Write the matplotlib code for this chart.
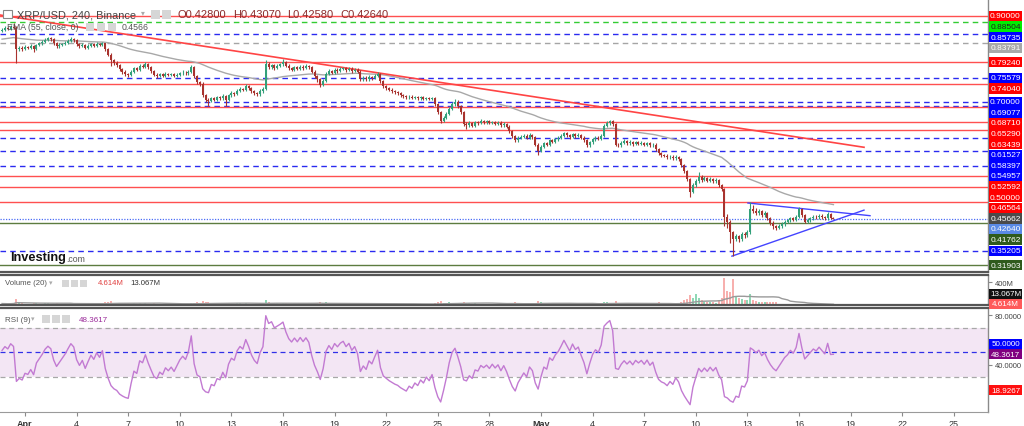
import numpy as np
import pandas as pd
import matplotlib
matplotlib.use('Agg')
import matplotlib.pyplot as plt
from matplotlib.patches import Rectangle
from matplotlib.transforms import IdentityTransform

plt.rcParams['font.family'] = ['Liberation Sans', 'DejaVu Sans']

# ---------------- data ----------------
first_open = 0.866
closes = [
    0.868, 0.872, 0.870, 0.875, 0.873, 0.823, 0.826, 0.822, 0.828, 0.826,
    0.830, 0.822, 0.832, 0.836, 0.840, 0.845, 0.848, 0.846, 0.836, 0.829,
    0.832, 0.835, 0.838, 0.842, 0.846, 0.844, 0.835, 0.830, 0.833, 0.826,
    0.830, 0.834, 0.831, 0.835, 0.832, 0.836, 0.822, 0.810, 0.797, 0.790,
    0.786, 0.776, 0.770, 0.765, 0.762, 0.770, 0.778, 0.775, 0.784, 0.782,
    0.788, 0.780, 0.772, 0.763, 0.760, 0.764, 0.761, 0.765, 0.762, 0.764,
    0.760, 0.763, 0.766, 0.768, 0.766, 0.770, 0.781, 0.760, 0.745, 0.742,
    0.715, 0.705, 0.702, 0.708, 0.705, 0.710, 0.708, 0.713, 0.705, 0.715,
    0.720, 0.718, 0.726, 0.730, 0.728, 0.737, 0.732, 0.725, 0.720, 0.717,
    0.725, 0.730, 0.788, 0.780, 0.785, 0.779, 0.783, 0.787, 0.792, 0.784,
    0.778, 0.775, 0.780, 0.777, 0.782, 0.779, 0.783, 0.780, 0.770, 0.760,
    0.752, 0.740, 0.748, 0.765, 0.772, 0.768, 0.775, 0.772, 0.776, 0.778,
    0.774, 0.777, 0.772, 0.775, 0.770, 0.752, 0.756, 0.752, 0.758, 0.755,
    0.760, 0.765, 0.748, 0.736, 0.732, 0.728, 0.725, 0.722, 0.720, 0.716,
    0.713, 0.710, 0.712, 0.709, 0.711, 0.708, 0.710, 0.707, 0.709, 0.706,
    0.708, 0.695, 0.676, 0.655, 0.662, 0.671, 0.684, 0.695, 0.700, 0.690,
    0.676, 0.648, 0.645, 0.650, 0.644, 0.652, 0.650, 0.655, 0.652, 0.654,
    0.650, 0.653, 0.649, 0.651, 0.645, 0.648, 0.642, 0.632, 0.620, 0.610,
    0.615, 0.618, 0.621, 0.616, 0.622, 0.618, 0.600, 0.586, 0.595, 0.603,
    0.600, 0.610, 0.607, 0.612, 0.615, 0.620, 0.626, 0.622, 0.618, 0.624,
    0.620, 0.622, 0.616, 0.610, 0.598, 0.605, 0.612, 0.616, 0.614, 0.620,
    0.644, 0.650, 0.655, 0.648, 0.600, 0.598, 0.604, 0.608, 0.603, 0.606,
    0.601, 0.605, 0.602, 0.604, 0.600, 0.603, 0.598, 0.600, 0.590, 0.580,
    0.576, 0.574, 0.570, 0.572, 0.568, 0.571, 0.566, 0.552, 0.538, 0.520,
    0.490, 0.505, 0.515, 0.525, 0.518, 0.522, 0.516, 0.520, 0.514, 0.517,
    0.505, 0.496, 0.430, 0.420, 0.395, 0.380, 0.387, 0.379, 0.392, 0.388,
    0.395, 0.450, 0.446, 0.440, 0.445, 0.435, 0.440, 0.428, 0.418, 0.410,
    0.405, 0.410, 0.415, 0.420, 0.423, 0.428, 0.425, 0.431, 0.450, 0.435,
    0.420, 0.424, 0.428, 0.432, 0.430, 0.434, 0.431, 0.428, 0.438, 0.428, 0.4264,
]
highs = [
    0.872, 0.876, 0.875, 0.879, 0.883, 0.876, 0.831, 0.829, 0.832, 0.831,
    0.834, 0.833, 0.835, 0.839, 0.843, 0.849, 0.852, 0.851, 0.849, 0.839,
    0.836, 0.838, 0.842, 0.846, 0.851, 0.849, 0.847, 0.838, 0.837, 0.835,
    0.834, 0.838, 0.837, 0.839, 0.838, 0.840, 0.838, 0.825, 0.813, 0.800,
    0.794, 0.789, 0.779, 0.773, 0.768, 0.774, 0.782, 0.781, 0.788, 0.787,
    0.792, 0.791, 0.783, 0.775, 0.766, 0.768, 0.767, 0.769, 0.768, 0.768,
    0.767, 0.767, 0.770, 0.773, 0.771, 0.775, 0.786, 0.783, 0.763, 0.749,
    0.745, 0.719, 0.709, 0.712, 0.712, 0.714, 0.713, 0.717, 0.716, 0.719,
    0.724, 0.723, 0.730, 0.734, 0.733, 0.741, 0.740, 0.735, 0.728, 0.723,
    0.729, 0.734, 0.797, 0.792, 0.789, 0.788, 0.787, 0.791, 0.800, 0.795,
    0.787, 0.781, 0.784, 0.783, 0.786, 0.785, 0.787, 0.786, 0.783, 0.773,
    0.763, 0.755, 0.752, 0.769, 0.776, 0.775, 0.779, 0.778, 0.780, 0.782,
    0.781, 0.781, 0.780, 0.779, 0.778, 0.773, 0.760, 0.759, 0.762, 0.761,
    0.764, 0.769, 0.768, 0.751, 0.739, 0.735, 0.731, 0.728, 0.725, 0.723,
    0.719, 0.716, 0.715, 0.715, 0.714, 0.714, 0.713, 0.713, 0.712, 0.712,
    0.711, 0.710, 0.698, 0.679, 0.666, 0.675, 0.688, 0.699, 0.706, 0.703,
    0.693, 0.679, 0.652, 0.654, 0.653, 0.656, 0.655, 0.659, 0.658, 0.658,
    0.657, 0.656, 0.656, 0.655, 0.654, 0.652, 0.651, 0.645, 0.635, 0.623,
    0.619, 0.622, 0.625, 0.624, 0.626, 0.625, 0.621, 0.603, 0.599, 0.607,
    0.606, 0.614, 0.613, 0.616, 0.619, 0.624, 0.630, 0.629, 0.625, 0.628,
    0.627, 0.626, 0.625, 0.619, 0.613, 0.609, 0.616, 0.620, 0.619, 0.624,
    0.648, 0.654, 0.658, 0.657, 0.651, 0.604, 0.608, 0.612, 0.611, 0.610,
    0.609, 0.609, 0.608, 0.608, 0.607, 0.607, 0.606, 0.604, 0.603, 0.593,
    0.583, 0.579, 0.577, 0.576, 0.575, 0.575, 0.574, 0.569, 0.555, 0.541,
    0.523, 0.510, 0.520, 0.536, 0.528, 0.527, 0.525, 0.525, 0.523, 0.521,
    0.520, 0.508, 0.499, 0.438, 0.425, 0.398, 0.392, 0.390, 0.396, 0.395,
    0.400, 0.465, 0.458, 0.452, 0.450, 0.448, 0.445, 0.443, 0.431, 0.421,
    0.413, 0.414, 0.419, 0.424, 0.427, 0.432, 0.431, 0.435, 0.455, 0.452,
    0.438, 0.428, 0.432, 0.436, 0.435, 0.438, 0.437, 0.434, 0.442, 0.440, 0.4307,
]
lows = [
    0.863, 0.866, 0.867, 0.868, 0.870, 0.790, 0.818, 0.818, 0.820, 0.822,
    0.823, 0.817, 0.820, 0.829, 0.833, 0.837, 0.842, 0.841, 0.832, 0.825,
    0.826, 0.829, 0.832, 0.835, 0.839, 0.840, 0.831, 0.826, 0.827, 0.822,
    0.823, 0.827, 0.828, 0.828, 0.829, 0.829, 0.818, 0.806, 0.784, 0.785,
    0.780, 0.771, 0.765, 0.760, 0.757, 0.759, 0.767, 0.771, 0.772, 0.778,
    0.779, 0.776, 0.768, 0.759, 0.756, 0.757, 0.758, 0.758, 0.759, 0.759,
    0.757, 0.757, 0.760, 0.763, 0.762, 0.763, 0.767, 0.756, 0.741, 0.737,
    0.710, 0.700, 0.690, 0.699, 0.701, 0.702, 0.704, 0.705, 0.690, 0.702,
    0.712, 0.714, 0.715, 0.722, 0.724, 0.725, 0.728, 0.721, 0.716, 0.713,
    0.714, 0.721, 0.727, 0.776, 0.777, 0.775, 0.776, 0.780, 0.784, 0.780,
    0.774, 0.771, 0.772, 0.773, 0.774, 0.775, 0.776, 0.776, 0.766, 0.756,
    0.747, 0.734, 0.737, 0.745, 0.762, 0.764, 0.765, 0.768, 0.769, 0.773,
    0.770, 0.771, 0.768, 0.769, 0.766, 0.748, 0.749, 0.748, 0.749, 0.751,
    0.752, 0.757, 0.744, 0.732, 0.728, 0.724, 0.721, 0.718, 0.716, 0.712,
    0.709, 0.707, 0.707, 0.706, 0.706, 0.705, 0.705, 0.704, 0.704, 0.703,
    0.703, 0.691, 0.672, 0.650, 0.652, 0.659, 0.668, 0.681, 0.691, 0.686,
    0.672, 0.644, 0.636, 0.642, 0.640, 0.641, 0.646, 0.647, 0.648, 0.649,
    0.647, 0.647, 0.646, 0.646, 0.642, 0.642, 0.638, 0.628, 0.616, 0.605,
    0.607, 0.612, 0.615, 0.612, 0.613, 0.614, 0.596, 0.575, 0.582, 0.592,
    0.596, 0.597, 0.603, 0.604, 0.609, 0.612, 0.617, 0.618, 0.614, 0.615,
    0.616, 0.617, 0.612, 0.606, 0.594, 0.595, 0.602, 0.609, 0.610, 0.611,
    0.617, 0.640, 0.646, 0.644, 0.596, 0.594, 0.595, 0.601, 0.599, 0.600,
    0.597, 0.598, 0.598, 0.599, 0.596, 0.597, 0.594, 0.595, 0.586, 0.576,
    0.572, 0.570, 0.566, 0.567, 0.564, 0.565, 0.562, 0.548, 0.533, 0.515,
    0.478, 0.486, 0.500, 0.511, 0.513, 0.514, 0.512, 0.512, 0.510, 0.510,
    0.500, 0.491, 0.410, 0.405, 0.370, 0.341, 0.374, 0.372, 0.375, 0.382,
    0.384, 0.392, 0.440, 0.435, 0.436, 0.430, 0.431, 0.424, 0.413, 0.404,
    0.401, 0.402, 0.406, 0.411, 0.416, 0.419, 0.421, 0.422, 0.428, 0.431,
    0.416, 0.416, 0.420, 0.424, 0.426, 0.427, 0.427, 0.424, 0.425, 0.426, 0.4258,
]
volumes_m = [
    25, 22, 20, 24, 35, 110, 45, 30, 25, 22, 20, 28, 30, 25, 22, 28, 30, 22, 25, 28,
    20, 18, 22, 25, 30, 22, 28, 24, 20, 25, 18, 20, 16, 18, 15, 20, 45, 55, 70, 40,
    35, 40, 32, 28, 30, 25, 30, 22, 28, 25, 30, 22, 25, 28, 20, 18, 15, 16, 14, 15,
    16, 15, 18, 20, 16, 22, 35, 40, 45, 30, 65, 45, 50, 30, 25, 22, 20, 24, 35, 28,
    25, 20, 28, 30, 22, 30, 25, 22, 20, 18, 22, 25, 95, 50, 35, 30, 28, 25, 40, 30,
    25, 22, 20, 18, 22, 20, 18, 16, 25, 30, 35, 55, 40, 45, 30, 22, 25, 20, 22, 25,
    20, 18, 16, 15, 18, 35, 22, 20, 18, 16, 20, 25, 35, 30, 22, 20, 18, 16, 15, 18,
    15, 14, 12, 13, 12, 14, 12, 13, 11, 12, 14, 30, 55, 70, 40, 35, 45, 40, 35, 30,
    35, 55, 40, 30, 25, 28, 22, 20, 18, 16, 15, 14, 16, 14, 18, 16, 20, 30, 35, 45,
    30, 25, 22, 20, 22, 20, 40, 75, 45, 35, 25, 28, 22, 20, 22, 25, 28, 22, 20, 22,
    18, 16, 20, 25, 35, 25, 22, 20, 18, 22, 55, 45, 40, 35, 65, 35, 25, 22, 20, 18,
    16, 15, 14, 15, 16, 14, 18, 15, 30, 45, 40, 30, 28, 25, 22, 25, 30, 60, 90, 110,
    170, 130, 200, 120, 80, 60, 50, 45, 50, 40, 95, 120, 470, 250, 230, 460, 150, 120, 100, 90,
    80, 190, 90, 70, 60, 50, 45, 55, 60, 50, 45, 20, 18, 16, 15, 14, 12, 11, 22, 18,
    15, 15, 12, 10, 11, 9, 10, 8, 9, 8, 4.614,
]
vol_ma_last = 13.067
ema_seed = 0.846          # EMA(55) value at the first candle
rsi_seed_gain = 0.004     # RSI(9) starts near 50
rsi_seed_loss = 0.004
rsi_last = 48.3617

level_values = [0.90000, 0.88504, 0.85735, 0.83791, 0.79240, 0.75579, 0.74040,
                0.70000, 0.69077, 0.68710, 0.65290, 0.63439, 0.61527, 0.58397,
                0.54957, 0.52592, 0.50000, 0.46564, 0.41762, 0.35205, 0.31903]
level_kinds = ['red', 'lime', 'blue', 'gray', 'red', 'blue', 'red',
               'blue', 'blue', 'red', 'red', 'red', 'blue', 'blue',
               'blue', 'red', 'red', 'red', 'olive', 'blue', 'olive']
ema_label = 0.45662
last_price = 0.42640

trend_days = [-1.45, 48.78]
trend_prices = [0.9023, 0.5937]
tri_upper_days = [42.03, 49.13]
tri_upper_prices = [0.4637, 0.4341]
tri_lower_days = [41.10, 48.78]
tri_lower_prices = [0.3397, 0.4471]

tick_days = [0, 3, 6, 9, 12, 15, 18, 21, 24, 27, 30, 33, 36, 39, 42, 45, 48, 51, 54]
tick_labels = ['Apr', '4', '7', '10', '13', '16', '19', '22', '25', '28',
               'May', '4', '7', '10', '13', '16', '19', '22', '25']

rsi_levels = [70, 50, 30]
rsi_ticks = [40, 60, 80]
rsi_low_label = 18.9267
vol_tick = 400

# ---------------- derived ----------------
closes = np.array(closes)
highs = np.array(highs)
lows = np.array(lows)
vols = np.array(volumes_m, dtype=float)
n = len(closes)
opens = np.r_[first_open, closes[:-1]]
days = -8 / 6 + np.arange(n) / 6.0
up = closes >= opens

ema = [ema_seed]
a = 2 / 56
for c in closes[1:]:
    ema.append(ema[-1] + a * (c - ema[-1]))
ema = np.array(ema)

ag, al = rsi_seed_gain, rsi_seed_loss
rsi = []
prev = first_open
for c in closes:
    ch = c - prev
    prev = c
    ag = (ag * 8 + max(ch, 0)) / 9
    al = (al * 8 + max(-ch, 0)) / 9
    rsi.append(100 * ag / (ag + al))
rsi = np.array(rsi)
rsi[-1] = rsi_last
vol_ma = pd.Series(vols).rolling(20, min_periods=1).mean().values

# ---------------- layout ----------------
W, H = 1024, 427
fig = plt.figure(figsize=(W / 100, H / 100), dpi=100)
fig.patch.set_facecolor('white')


def rect(top, bottom, right=988):
    return [0, 1 - bottom / H, right / W, (bottom - top) / H]


ax = fig.add_axes(rect(1, 273))
axv = fig.add_axes(rect(276, 306))
axr = fig.add_axes(rect(309, 413))

XL = (-25 / 17.2, (988 - 25) / 17.2)
for a_ in (ax, axv, axr):
    a_.set_xlim(*XL)
    a_.set_facecolor('white')
    for s in ('left', 'top'):
        a_.spines[s].set_visible(False)
    a_.spines['right'].set_color('#8a8a8a')
    a_.spines['right'].set_linewidth(1)
    a_.tick_params(left=False, labelleft=False)

ppx = 428.6
ax.set_ylim(0.90 - 256 / ppx, 0.90 + 16 / ppx)
ax.set_xticks([])
ax.set_yticks([])
ax.spines['bottom'].set_color('#555555')
ax.spines['bottom'].set_linewidth(1.6)

UP = '#33a07a'
DN = '#a8332e'
LINE = {
    'red': dict(color='#ff5050', lw=1.0, ls='-'),
    'lime': dict(color='#33cc33', lw=1.0, ls=(0, (4, 3))),
    'blue': dict(color='#2a2af0', lw=1.0, ls=(0, (4, 3))),
    'gray': dict(color='#a5a5a5', lw=1.0, ls=(0, (4, 3))),
    'olive': dict(color='#5c7c40', lw=1.0, ls='-'),
}
LBL = {
    'red': ('#ff0000', 'white'),
    'lime': ('#00ee00', '#222222'),
    'blue': ('#0000ff', 'white'),
    'gray': ('#a8a8a8', 'white'),
    'olive': ('#2f5a1c', 'white'),
}

for v, kd in zip(level_values, level_kinds):
    ax.axhline(v, zorder=1, **LINE[kd])
ax.axhline(last_price, color='#4a6cf7', lw=0.9, ls=(0, (1, 1.2)), zorder=1)

ax.plot(days, ema, color='#a8a8a8', lw=1.0, zorder=2)
ax.plot(trend_days, trend_prices, color='#ff4444', lw=1.2, zorder=3)
ax.plot(tri_upper_days, tri_upper_prices, color='#4444ff', lw=1.0, zorder=3)
ax.plot(tri_lower_days, tri_lower_prices, color='#4444ff', lw=1.0, zorder=3)

cols = np.where(up, UP, DN)
ax.vlines(days, lows, highs, colors=cols, lw=0.8, zorder=4)
body = np.maximum(np.abs(closes - opens), 0.0015)
ax.bar(days, body, bottom=np.minimum(opens, closes), width=0.12,
       color=cols, lw=0, zorder=5)

# ---------------- price labels on right ----------------
labels = [(v, LBL[k][0], LBL[k][1]) for v, k in zip(level_values, level_kinds)]
labels.append((ema_label, '#4a4a4a', 'white'))
labels.append((last_price, '#5a8ae6', 'white'))
labels.sort(key=lambda t: -t[0])
ID = IdentityTransform()
prev_y = None
gap = 10.6
for v, bg, fg in labels:
    y = ax.transData.transform((0, v))[1]
    if prev_y is not None and prev_y - y < gap:
        y = prev_y - gap
    prev_y = y
    fig.add_artist(Rectangle((989, y - 5.2), 33, 10.4, transform=ID,
                             fc=bg, ec='none', zorder=10))
    fig.text(1005.5, y, f'{v:.5f}', transform=ID, ha='center', va='center',
             fontsize=6, color=fg, zorder=11)

# ---------------- volume panel ----------------
axv.set_ylim(0, 522)
vcols = np.where(up, '#8fd8b5', '#f7b0ae')
axv.bar(days, vols, width=0.12, color=vcols, lw=0)
axv.plot(days, vol_ma, color='#9a9a9a', lw=1.0)
axv.set_xticks([])
for s in ('bottom', 'top'):
    axv.spines[s].set_visible(True)
    axv.spines[s].set_color('#555555')
    axv.spines[s].set_linewidth(1.6)
axv.yaxis.tick_right()
axv.set_yticks([vol_tick])
axv.set_yticklabels([f'{vol_tick}M'])
axv.tick_params(axis='y', right=True, labelright=True, length=3, width=0.8,
                color='#8a8a8a', labelsize=5.5, labelcolor='#444444', pad=2)
yb = axv.transData.transform((0, 0))[1] + 1.5
fig.add_artist(Rectangle((989, yb - 5), 33, 10, transform=ID, fc='#ff5a5a', ec='none', zorder=10))
fig.text(1005.5, yb, f'{vols[-1]:.3f}M', transform=ID, ha='center', va='center',
         fontsize=5.8, color='white', zorder=11)
fig.add_artist(Rectangle((989, yb + 4.5), 33, 10, transform=ID, fc='#111111', ec='none', zorder=10))
fig.text(1005.5, yb + 9.5, f'{vol_ma_last:.3f}M', transform=ID, ha='center',
         va='center', fontsize=5.8, color='white', zorder=11)

# ---------------- RSI panel ----------------
axr.set_ylim(1.4, 86)
axr.axhspan(rsi_levels[2], rsi_levels[0], color='#f3e6f4', lw=0, zorder=0)
axr.axhline(rsi_levels[0], color='#a8a8a8', lw=0.9, ls=(0, (4, 3)))
axr.axhline(rsi_levels[2], color='#a8a8a8', lw=0.9, ls=(0, (4, 3)))
axr.axhline(rsi_levels[1], color='#3030e8', lw=0.9, ls=(0, (4, 3)))
axr.plot(days, rsi, color='#c27ad2', lw=1.0)
axr.spines['top'].set_visible(True)
axr.spines['top'].set_color('#555555')
axr.spines['top'].set_linewidth(1.6)
axr.spines['bottom'].set_color('#9a9a9a')
axr.spines['bottom'].set_linewidth(0.8)
axr.yaxis.tick_right()
axr.set_yticks(rsi_ticks)
# the 60 label sits behind the coloured 50 label in the reference
axr.set_yticklabels([f'{t:.4f}' if t != 60 else '' for t in rsi_ticks])
axr.tick_params(axis='y', right=True, labelright=True, length=3, width=0.8,
                color='#8a8a8a', labelsize=5.5, labelcolor='#444444', pad=2)
axr.set_xticks(tick_days)
axr.set_xticklabels(tick_labels)
axr.tick_params(axis='x', length=3, width=0.8, color='#8a8a8a', labelsize=6.5,
                labelcolor='#333333', pad=2)
for t in axr.get_xticklabels():
    if t.get_text() in ('Apr', 'May'):
        t.set_fontweight('bold')

yc = axr.transData.transform((0, rsi[-1]))[1]
fig.add_artist(Rectangle((989, yc - 5), 33, 10, transform=ID, fc='#800080', ec='none', zorder=10))
fig.text(1005.5, yc, f'{rsi[-1]:.4f}', transform=ID, ha='center', va='center',
         fontsize=5.8, color='white', zorder=11)
fig.add_artist(Rectangle((989, yc + 5.3), 33, 10, transform=ID, fc='#0000ff', ec='none', zorder=10))
fig.text(1005.5, yc + 10.3, f'{rsi_levels[1]:.4f}', transform=ID, ha='center', va='center',
         fontsize=5.8, color='white', zorder=11)
yl = axr.transData.transform((0, rsi_low_label))[1]
fig.add_artist(Rectangle((989, yl - 5), 33, 10, transform=ID, fc='#ff1010', ec='none', zorder=10))
fig.text(1005.5, yl, f'{rsi_low_label:.4f}', transform=ID, ha='center', va='center',
         fontsize=5.8, color='white', zorder=11)

# ---------------- header texts ----------------
def fx(x):
    return x / W


def fy(y):
    return 1 - y / H


def icons(xs, yc, size=8):
    for x0 in xs:
        fig.add_artist(Rectangle((fx(x0), fy(yc + size / 2)), size / W, size / H,
                                 transform=fig.transFigure, fc='#d6d6d6', ec='none', zorder=9))


fig.add_artist(Rectangle((fx(3), fy(19)), 9 / W, 8 / H, transform=fig.transFigure,
                         fc='white', ec='#888888', lw=0.8, zorder=9))
fig.text(fx(17), fy(15), 'XRP/USD, 240, Binance', fontsize=7.9, color='#444444',
         va='center', ha='left', zorder=9)
fig.text(fx(141), fy(14), '▾', fontsize=5.5, color='#aaaaaa', va='center', zorder=9)
icons([151, 162], 15, 9)
ohlc = [('O', 0.42800, 178), ('H', 0.43070, 233), ('L', 0.42580, 287), ('C', 0.42640, 340)]
for lt, val, x0 in ohlc:
    fig.text(fx(x0), fy(15), f'{lt}{val:.5f}', fontsize=8.0, color='#8b2b2b',
             va='center', ha='left', zorder=9)

fig.text(fx(7), fy(28), 'EMA (55, close, 0)', fontsize=6.3, color='#555555',
         va='center', ha='left', zorder=9)
icons([86, 97, 108], 28, 8)
fig.text(fx(122), fy(28), '0.4566', fontsize=6.3, color='#555555', va='center', zorder=9)

fig.text(fx(10), fy(258), 'Investing', fontsize=9.2, fontweight='bold', color='#111111',
         va='center', ha='left', zorder=9)
fig.text(fx(66), fy(259.5), '.com', fontsize=6.3, color='#555555', va='center', ha='left', zorder=9)

fig.text(fx(5), fy(284), 'Volume (20)', fontsize=5.6, color='#555555', va='center', zorder=9)
fig.text(fx(49), fy(284), '▾', fontsize=5, color='#aaaaaa', va='center', zorder=9)
icons([62, 71, 80], 284, 7)
fig.text(fx(98), fy(284), '4.614M', fontsize=5.6, color='#e04040', va='center', zorder=9)
fig.text(fx(130), fy(284), '13.067M', fontsize=5.6, color='#333333', va='center', zorder=9)

fig.text(fx(5), fy(320), 'RSI (9)', fontsize=5.8, color='#555555', va='center', zorder=9)
fig.text(fx(31), fy(320), '▾', fontsize=5, color='#aaaaaa', va='center', zorder=9)
icons([42, 52, 62], 320, 8)
fig.text(fx(79), fy(320), '48.3617', fontsize=5.8, color='#9a2a9a', va='center', zorder=9)

fig.savefig('out.png', dpi=100, facecolor='white')
